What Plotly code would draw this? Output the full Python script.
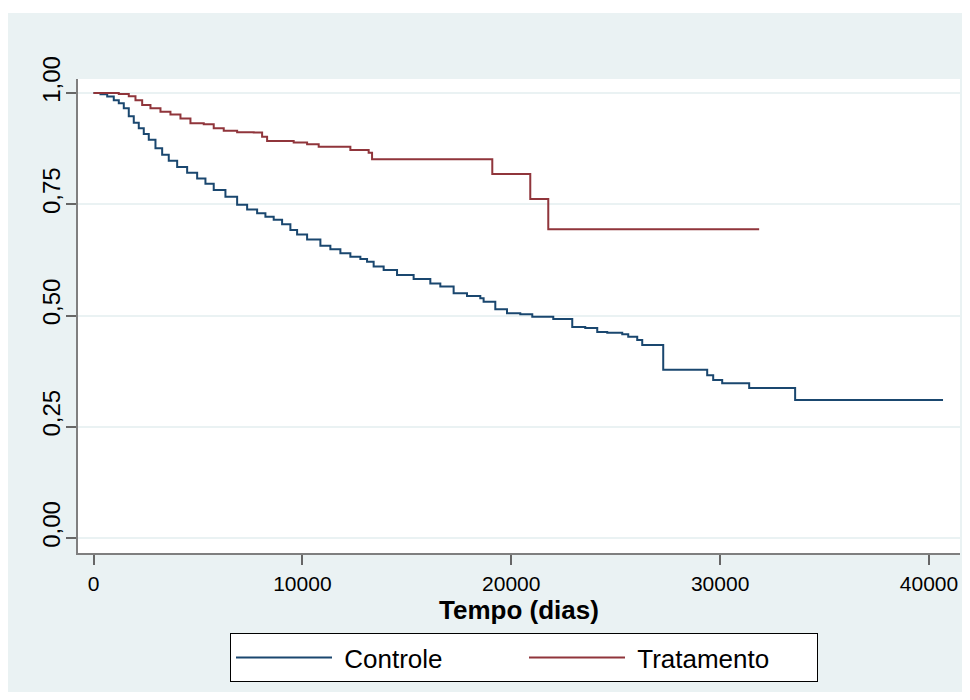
import plotly.graph_objects as go

# ---- Data ----
controle_tempo = [0, 335, 656, 971, 1211, 1450, 1689, 1928, 2168, 2407, 2646, 2967, 3287,
                  3603, 4005, 4483, 4962, 5359, 5756, 6316, 6876, 7355, 7833, 8230, 8627,
                  9029, 9426, 9747, 10226, 10862, 11340, 11819, 12297, 12776, 13096, 13412,
                  13891, 14532, 15326, 16125, 16604, 17241, 17882, 18518, 18676, 19236,
                  19796, 20432, 21006, 22011, 22920, 23542, 24116, 24595, 25313, 25600,
                  26030, 26270, 27275, 29380, 29667, 30098, 31390, 33590, 40670]
controle_sobrevida = [1.000, 0.997, 0.992, 0.984, 0.977, 0.966, 0.948, 0.933, 0.921, 0.908,
                      0.895, 0.876, 0.861, 0.848, 0.834, 0.821, 0.808, 0.796, 0.782, 0.767,
                      0.749, 0.738, 0.730, 0.722, 0.715, 0.705, 0.692, 0.682, 0.671, 0.657,
                      0.649, 0.640, 0.632, 0.627, 0.621, 0.610, 0.602, 0.591, 0.582, 0.572,
                      0.565, 0.550, 0.544, 0.539, 0.531, 0.514, 0.505, 0.503, 0.497, 0.492,
                      0.474, 0.472, 0.463, 0.461, 0.458, 0.452, 0.445, 0.434, 0.378, 0.366,
                      0.355, 0.348, 0.337, 0.310, 0.310]

tratamento_tempo = [0, 1211, 1689, 2010, 2330, 2727, 3206, 3684, 4163, 4641, 5278, 5756,
                    6235, 6876, 7671, 8072, 8311, 9584, 10226, 10781, 12297, 13173, 13336,
                    19092, 20910, 21772, 31868]
tratamento_sobrevida = [1.000, 0.998, 0.993, 0.984, 0.973, 0.966, 0.958, 0.952, 0.943,
                        0.932, 0.930, 0.921, 0.915, 0.912, 0.911, 0.902, 0.892, 0.889,
                        0.885, 0.879, 0.872, 0.866, 0.851, 0.818, 0.762, 0.694, 0.694]

x_tickvals = [0, 10000, 20000, 30000, 40000]
x_ticktext = ["0", "10000", "20000", "30000", "40000"]
y_tickvals = [0, 0.25, 0.5, 0.75, 1.0]
y_ticktext = ["0,00", "0,25", "0,50", "0,75", "1,00"]

series_names = ["\u00a0Controle", "\u00a0Tratamento"]
series_colors = ["#1a476f", "#90353b"]

BG = "#eaf2f3"
FONT = "Liberation Sans, Arial, sans-serif"

fig = go.Figure()
fig.add_trace(go.Scatter(x=controle_tempo, y=controle_sobrevida, mode="lines",
                         line=dict(shape="hv", color=series_colors[0], width=2),
                         name=series_names[0]))
fig.add_trace(go.Scatter(x=tratamento_tempo, y=tratamento_sobrevida, mode="lines",
                         line=dict(shape="hv", color=series_colors[1], width=2),
                         name=series_names[1]))

# figure sits at page offset (8, 8); plot area in figure px: x 70..952, y 71..545
W, H = 962, 684
L, T, R = 70, 71, 10
B = H - 545
pw, ph = W - L - R, H - T - B

def px_x(p):
    return (p - L) / pw

def px_y(p):
    return (H - B - p) / ph

fig.update_layout(
    width=W, height=H,
    margin=dict(l=L, r=R, t=T, b=B, pad=0),
    paper_bgcolor=BG,
    plot_bgcolor="white",
    font=dict(family=FONT, color="black"),
    showlegend=True,
    legend=dict(
        orientation="h",
        x=px_x(222), xanchor="left",
        y=px_y(625), yanchor="top",
        bgcolor="white", bordercolor="black", borderwidth=1,
        font=dict(size=26, family=FONT),
        itemwidth=96,
        entrywidth=182,
        tracegroupgap=0,
    ),
    shapes=[
        dict(type="rect", xref="paper", yref="paper", x0=px_x(0), x1=px_x(W),
             y0=px_y(5), y1=px_y(0), fillcolor="white", line=dict(width=0), layer="above"),
    ],
)

fig.update_xaxes(
    range=[-742, 41483],
    tickvals=x_tickvals, ticktext=x_ticktext,
    showgrid=False, zeroline=False,
    showline=True, linecolor="#7f7f7f", linewidth=1.5,
    ticks="outside", ticklen=10, tickwidth=1.5, tickcolor="#666666",
    tickfont=dict(size=21, family=FONT),
    ticklabelstandoff=1,
    title=dict(text="<b>Tempo (dias)</b>", font=dict(size=26, family=FONT), standoff=5),
)
fig.update_yaxes(
    range=[-0.0337, 1.0315],
    tickvals=y_tickvals, ticktext=y_ticktext,
    showgrid=True, gridcolor=BG, gridwidth=1.5,
    zeroline=False,
    showline=True, linecolor="#7f7f7f", linewidth=1.5,
    ticks="outside", ticklen=10, tickwidth=1.5, tickcolor="#666666",
    tickfont=dict(size=24, family=FONT),
    tickangle=-90,
    ticklabelshift=-10,
    ticklabelstandoff=-3,
)

fig.write_html("out.html")
